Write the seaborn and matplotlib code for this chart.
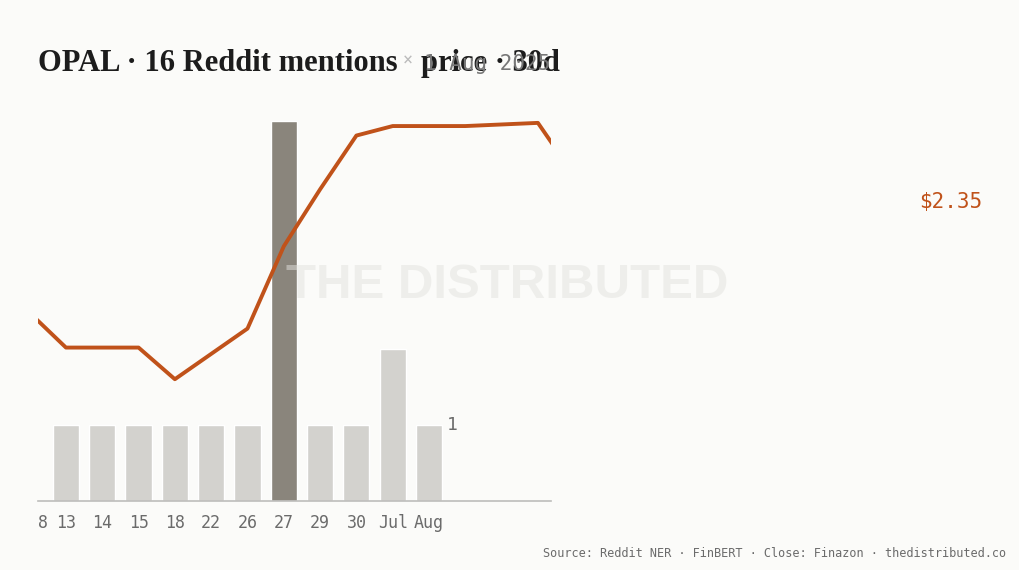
import matplotlib
matplotlib.use("Agg")
import matplotlib.pyplot as plt
import seaborn as sns

# --------------------------------------------------
# Dados
# --------------------------------------------------
ticker = "OPAL"
bar_days = ["13", "14", "15", "18", "22", "26", "27", "29", "30", "Jul", "Aug"]
mentions = [1, 1, 1, 1, 1, 1, 5, 1, 1, 2, 1]
first_day = "8"

# sessão (índice relativo às barras) e fechamento
price_idx = [-1, 0, 1, 2, 3, 4, 5, 6, 7, 8, 9, 10, 11, 12, 13, 14.5]
price = [2.00, 1.89, 1.89, 1.89, 1.79, 1.87, 1.95, 2.21, 2.39, 2.56, 2.59,
         2.59, 2.59, 2.595, 2.60, 2.35]
last_price = 2.35

BG = "#fbfbf9"
BAR = "#d3d2ce"
BAR_HI = "#8a857c"
LINE = "#c0521a"
GREY = "#6b6b6b"

sns.set_theme(style="white")
plt.rcParams["font.family"] = ["DejaVu Sans Mono", "DejaVu Sans"]

W, H = 1020, 570
fig = plt.figure(figsize=(W / 100, H / 100), dpi=100, facecolor=BG)


def fx(px):
    return px / W


def fy(py):
    return 1 - py / H


ax = fig.add_axes([fx(38), fy(501), fx(551 - 38), (501 - 100) / H])
ax.set_facecolor("none")

# --------------------------------------------------
# Barras de menções
# --------------------------------------------------
top = max(mentions)
colors = [BAR_HI if m == top else BAR for m in mentions]
pos = list(range(len(mentions)))
sns.barplot(x=pos, y=mentions, hue=pos, palette=colors, legend=False,
            width=0.72, saturation=1, ax=ax, zorder=2)
ax.text(len(mentions) - 1 + 0.5, mentions[-1], str(mentions[-1]),
        color=GREY, fontsize=13, va="center", ha="left")

# marca d'água (sobre as barras, sob a linha)
ax.text(fx(286), fy(285), "THE DISTRIBUTED", family="Liberation Sans",
        weight="bold", fontsize=35.5, color="#e2e2de", alpha=0.5,
        va="center", transform=fig.transFigure, clip_on=False, zorder=5)

ax.set_ylim(0, 401 / 76)
ax.set_xticks([-0.62] + pos)
ax.set_xticklabels([first_day] + bar_days, color=GREY, fontsize=12)
ax.tick_params(axis="x", length=0, pad=9)
ax.set_yticks([])
ax.set_xlabel("")
ax.set_ylabel("")
for s in ["top", "left", "right"]:
    ax.spines[s].set_visible(False)
ax.spines["bottom"].set_color("#bdbdbb")
ax.spines["bottom"].set_linewidth(1.2)

# --------------------------------------------------
# Linha de preço
# --------------------------------------------------
ax2 = ax.twinx()
sns.lineplot(x=price_idx, y=price, color=LINE, linewidth=2.8, ax=ax2,
             zorder=3)
ax2.set_ylim(2.35 - 299 * 0.00316, 2.35 + 102 * 0.00316)
ax2.axis("off")
ax.set_xlim(-0.77, 13.36)
ax2.set_xlim(-0.77, 13.36)

ax2.text(fx(982), last_price, f"${last_price:.2f}", color=LINE, fontsize=15,
         ha="right", va="center",
         transform=matplotlib.transforms.blended_transform_factory(
             fig.transFigure, ax2.transData))

# --------------------------------------------------
# Títulos e rodapé
# --------------------------------------------------
fig.text(fx(38), fy(71), f"{ticker} · {sum(mentions)} Reddit mentions",
         family="Liberation Serif", weight="bold", fontsize=22,
         color="#1c1c1c", va="baseline")
fig.text(fx(403), fy(66), "×", color="#bbbbbb", fontsize=12, va="baseline")
fig.text(fx(421), fy(71), "price · 30d", family="Liberation Serif",
         weight="bold", fontsize=22, color="#1c1c1c", va="baseline")
fig.text(fx(424), fy(70), "1 Aug 2025", color="#777777", fontsize=15,
         va="baseline")

fig.text(fx(1006), fy(557), "Source: Reddit NER · FinBERT · Close: Finazon · "
         "thedistributed.co", color=GREY, fontsize=8.6, ha="right",
         va="baseline")

fig.savefig("out.png", dpi=100, facecolor=BG)
plt.close(fig)
